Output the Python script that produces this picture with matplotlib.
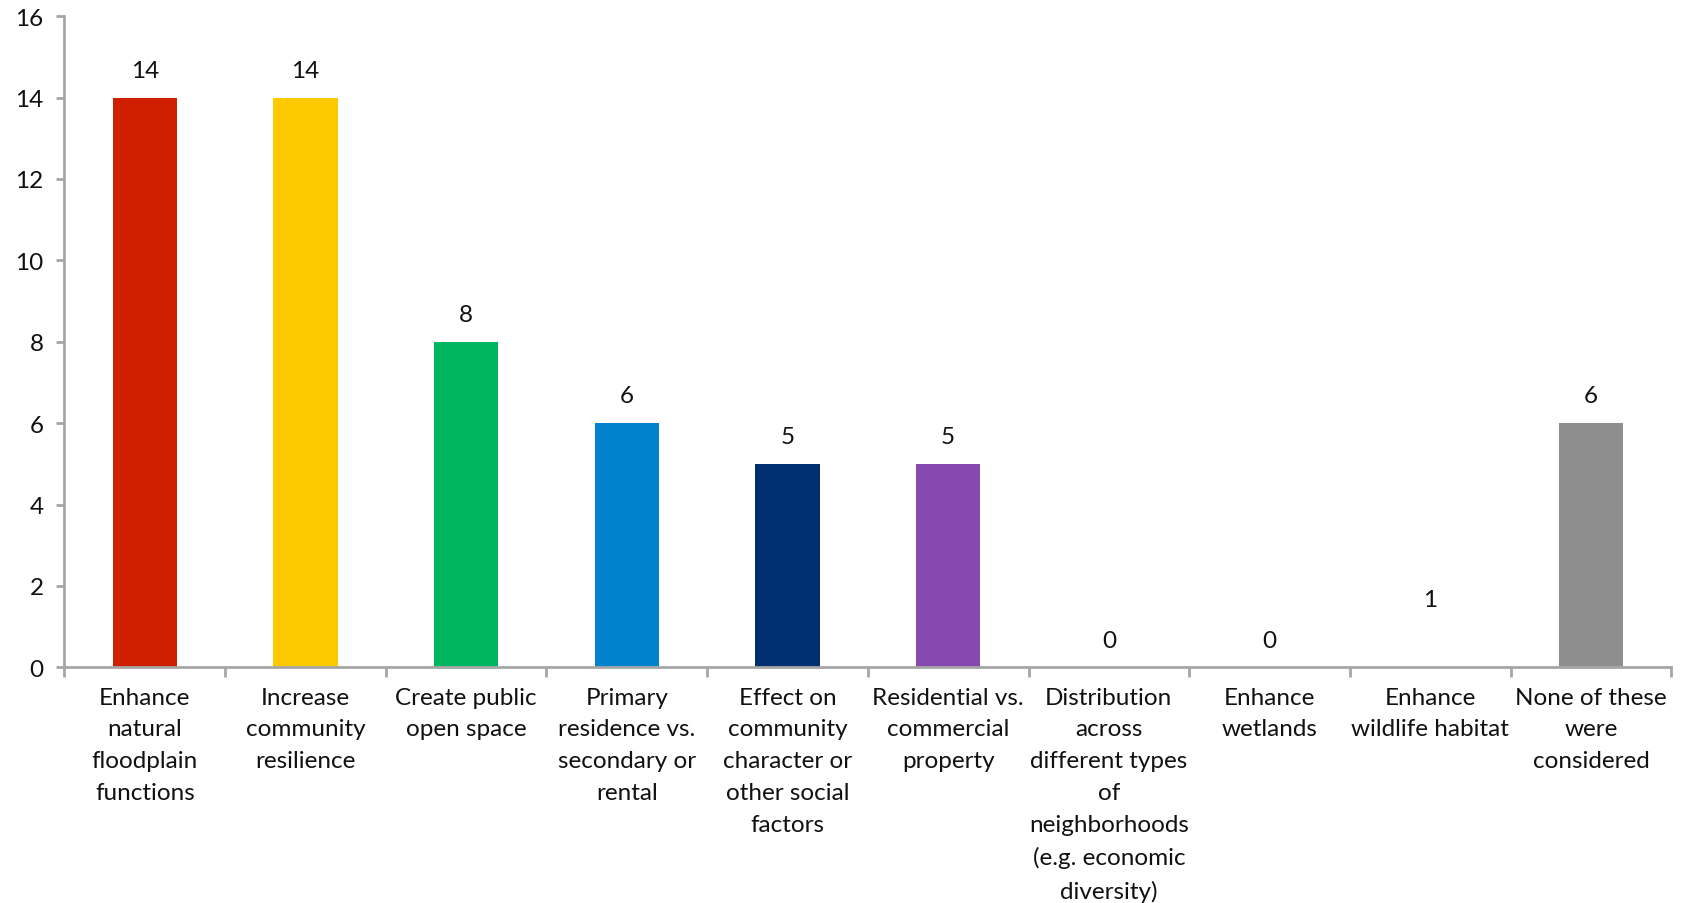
import matplotlib
matplotlib.use('Agg')
import matplotlib.pyplot as plt

categories = ['Enhance\nnatural\nfloodplain\nfunctions',
              'Increase\ncommunity\nresilience',
              'Create public\nopen space',
              'Primary\nresidence vs.\nsecondary or\nrental',
              'Effect on\ncommunity\ncharacter or\nother social\nfactors',
              'Residential vs.\ncommercial\nproperty',
              'Distribution\nacross\ndifferent types\nof\nneighborhoods\n(e.g. economic\ndiversity)',
              'Enhance\nwetlands',
              'Enhance\nwildlife habitat',
              'None of these\nwere\nconsidered']
counts = [14, 14, 8, 6, 5, 5, 0, 0, 1, 6]
colors = ['#CF1E00', '#FFC900', '#00B760', '#0083CC', '#003070',
          '#8548AE', '#FFFFFF', '#FFFFFF', '#FFFFFF', '#8E8E8E']

plt.rcParams['font.family'] = ['Lato', 'DejaVu Sans']
axis_grey = '#A6A6A6'
fs = 17.5

fig = plt.figure(figsize=(16.82, 9.04), dpi=100)
ax = fig.add_axes([0.0383, 0.2607, 0.9553, 0.7203])

x = list(range(len(categories)))
bars = ax.bar(x, counts, width=0.4, color=colors)

for xi, v in zip(x, counts):
    ax.annotate(str(v), (xi, v), xytext=(0, 12), textcoords='offset points',
                ha='center', va='bottom', fontsize=fs, color='#111111')

ax.set_xlim(-0.5, 9.5)
ax.set_ylim(0, 16)
ax.set_yticks(range(0, 17, 2))
ax.tick_params(axis='y', labelsize=fs, length=6, width=2, color=axis_grey,
               labelcolor='#111111', pad=9)

ax.set_xticks(x)
ax.set_xticklabels(categories, fontsize=fs, linespacing=1.63, color='#111111')
ax.set_xticks([i - 0.5 for i in range(11)], minor=True)
ax.tick_params(axis='x', which='major', length=0, pad=14)
ax.tick_params(axis='x', which='minor', length=7, width=2, color=axis_grey)

for s in ['top', 'right']:
    ax.spines[s].set_visible(False)
for s in ['left', 'bottom']:
    ax.spines[s].set_color(axis_grey)
    ax.spines[s].set_linewidth(2)

fig.savefig('out.png', dpi=100)
